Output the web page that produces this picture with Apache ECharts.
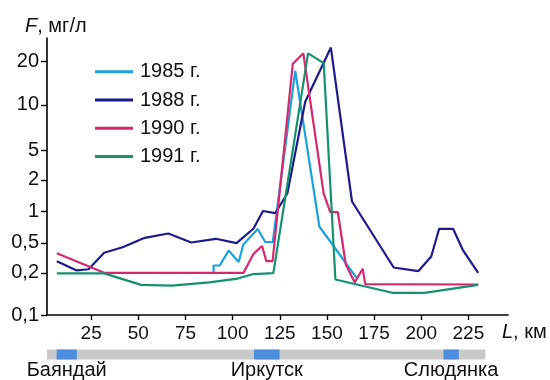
<!DOCTYPE html>
<html>
<head>
<meta charset="utf-8">
<script src="https://cdn.jsdelivr.net/npm/echarts@6/dist/echarts.min.js"></script>
<style>html,body{margin:0;padding:0;background:#fff;}#c{width:550px;height:380px;}</style>
</head>
<body>
<div id="c"></div>
<script>
// ---- data (distance L, km ; fluoride F, mg/l) ----
const YEARS = ['1985 г.', '1988 г.', '1990 г.', '1991 г.'];
const S1985_KM = [89.9, 89.9, 93.2, 97.9, 103.2, 105.7, 113.3, 117.3, 121.3, 133.2, 146.0, 165.6];
const S1985_F  = [0.196, 0.25, 0.25, 0.395, 0.278, 0.474, 0.677, 0.509, 0.509, 17.2, 0.715, 0.185];
const S1988_KM = [6.8, 17.4, 23.6, 31.9, 41.7, 53.4, 65.9, 78.1, 91.1, 102.1, 111.1, 116.1, 122.6, 129.0, 138.5, 152.1, 163.3, 185.4, 198.4, 205.3, 209.5, 216.9, 222.0, 230.2];
const S1988_F  = [0.285, 0.215, 0.223, 0.369, 0.437, 0.558, 0.613, 0.503, 0.546, 0.494, 0.684, 1.004, 0.957, 1.478, 10.5, 25.0, 1.238, 0.235, 0.210, 0.329, 0.680, 0.680, 0.404, 0.200];
const S1990_KM = [6.8, 31.9, 105.8, 111.1, 115.6, 117.9, 121.2, 131.9, 137.5, 148.3, 151.8, 155.8, 160.0, 164.7, 169.0, 170.3, 230.2];
const S1990_F  = [0.364, 0.2, 0.2, 0.357, 0.453, 0.285, 0.285, 19.3, 22.8, 1.468, 0.978, 0.978, 0.258, 0.171, 0.226, 0.166, 0.165];
const S1991_KM = [6.8, 31.9, 51.5, 67.8, 87.6, 102.7, 111.1, 121.6, 140.0, 148.3, 154.5, 184.6, 201.7, 230.2];
const S1991_F  = [0.198, 0.198, 0.164, 0.162, 0.171, 0.182, 0.196, 0.199, 22.8, 19.5, 0.179, 0.144, 0.144, 0.164];
const X_TICKS = [25, 50, 75, 100, 125, 150, 175, 200, 225];
const Y_TICK_VALUES = [0.1, 0.2, 0.5, 1, 2, 5, 10, 20];
const Y_TICK_LABELS = ['0,1', '0,2', '0,5', '1', '2', '5', '10', '20'];
const CITY_NAMES = ['Баяндай', 'Иркутск', 'Слюдянка'];
const CITY_FROM = [6.7, 111.3, 211.8];
const CITY_TO = [17.4, 124.9, 219.9];
const ROUTE = [1.6, 234];

// ---- the figure's own (uneven) logarithmic scale: axis units of each tick ----
const Y_TICK_POS = [0, 42.2, 72.2, 103.8, 135.2, 164.8, 210.2, 253.5];
function toPos(v) {
  const n = Y_TICK_VALUES.length;
  let i = 0;
  if (v >= Y_TICK_VALUES[n - 1]) i = n - 2;
  else { while (i < n - 2 && v > Y_TICK_VALUES[i + 1]) i++; }
  const a = Math.log(Y_TICK_VALUES[i]), b = Math.log(Y_TICK_VALUES[i + 1]);
  return Y_TICK_POS[i] + (Math.log(v) - a) / (b - a) * (Y_TICK_POS[i + 1] - Y_TICK_POS[i]);
}
const pts = (xs, ys) => xs.map((x, i) => [x, toPos(ys[i])]);

const FONT = 'Liberation Sans, Arial, sans-serif';
const INK = '#111';
const COLORS = ['#1ba1dd', '#1b1b8f', '#d6286c', '#159170'];
const X_MIN = 1.6, X_MAX = 246;

const lineSeries = (name, data, color) => ({
  type: 'line', name, data, symbol: 'none', smooth: false,
  lineStyle: { color, width: 2.2 }, itemStyle: { color },
  xAxisIndex: 0, yAxisIndex: 0, z: 3
});
const richTitle = {
  i: { fontStyle: 'italic', fontWeight: 'normal', fontSize: 20, color: INK, fontFamily: FONT },
  n: { fontWeight: 'normal', fontSize: 20, color: INK, fontFamily: FONT }
};

const chart = echarts.init(document.getElementById('c'), null, { renderer: 'canvas' });
chart.setOption({
  animation: false,
  backgroundColor: '#fff',
  textStyle: { fontFamily: FONT },
  title: [
    { text: '{i|F}{n|, мг/л}', left: 25, top: 16, padding: 0,
      textStyle: { fontWeight: 'normal', rich: richTitle } },
    { text: '{i|L}{n|, км}', left: 502, top: 322, padding: 0,
      textStyle: { fontWeight: 'normal', rich: richTitle } }
  ],
  legend: {
    data: YEARS, orient: 'vertical', left: 95, top: 60.7, padding: 0,
    icon: 'rect', itemWidth: 38, itemHeight: 3, itemGap: 6.3,
    textStyle: { fontSize: 20, color: INK, lineHeight: 22, fontFamily: FONT, padding: [0, 0, 0, 2] }
  },
  grid: [
    { left: 47, right: 42, top: 38, bottom: 65 },
    { left: 47, right: 42, top: 349.5, height: 10 }
  ],
  xAxis: [
    { type: 'value', gridIndex: 0, min: X_MIN, max: X_MAX,
      axisLine: { show: true, lineStyle: { color: '#000', width: 1.6 } },
      axisTick: { show: true, length: 5, customValues: X_TICKS, lineStyle: { color: '#000', width: 1.4 } },
      axisLabel: { customValues: X_TICKS, fontSize: 19, color: INK, margin: 9, fontFamily: FONT },
      splitLine: { show: false } },
    { type: 'value', gridIndex: 1, min: X_MIN, max: X_MAX, show: false }
  ],
  yAxis: [
    { type: 'value', gridIndex: 0, min: 0, max: 277,
      axisLine: { show: true, lineStyle: { color: '#000', width: 1.6 } },
      axisTick: { show: true, length: 6, customValues: Y_TICK_POS, lineStyle: { color: '#000', width: 1.4 } },
      axisLabel: { customValues: Y_TICK_POS, fontSize: 20, color: INK, margin: 8, fontFamily: FONT,
        formatter: (v) => {
          let best = 0;
          Y_TICK_POS.forEach((p, i) => { if (Math.abs(p - v) < Math.abs(Y_TICK_POS[best] - v)) best = i; });
          return Y_TICK_LABELS[best];
        } },
      splitLine: { show: false } },
    { type: 'value', gridIndex: 1, min: 0, max: 1, show: false }
  ],
  series: [
    lineSeries(YEARS[0], pts(S1985_KM, S1985_F), COLORS[0]),
    lineSeries(YEARS[1], pts(S1988_KM, S1988_F), COLORS[1]),
    lineSeries(YEARS[2], pts(S1990_KM, S1990_F), COLORS[2]),
    lineSeries(YEARS[3], pts(S1991_KM, S1991_F), COLORS[3]),
    { type: 'custom', xAxisIndex: 1, yAxisIndex: 1, clip: false, silent: true, z: 1,
      data: [ROUTE],
      encode: { x: [0, 1] },
      renderItem: (params, api) => {
        const p0 = api.coord([api.value(0), 0]);
        const p1 = api.coord([api.value(1), 1]);
        return { type: 'rect', shape: { x: p0[0], y: p1[1], width: p1[0] - p0[0], height: p0[1] - p1[1] }, style: { fill: '#c9c9c9' } };
      } },
    { type: 'custom', xAxisIndex: 1, yAxisIndex: 1, clip: false, silent: true, z: 2,
      data: CITY_NAMES.map((n, i) => [CITY_FROM[i], CITY_TO[i], n]),
      encode: { x: [0, 1] },
      renderItem: (params, api) => {
        const p0 = api.coord([api.value(0), 0]);
        const p1 = api.coord([api.value(1), 1]);
        const name = CITY_NAMES[params.dataIndex];
        return { type: 'group', children: [
          { type: 'rect', shape: { x: p0[0], y: p1[1], width: p1[0] - p0[0], height: p0[1] - p1[1] }, style: { fill: '#4d8edc' } },
          { type: 'text', x: (p0[0] + p1[0]) / 2, y: p0[1] + 11,
            style: { text: name, fill: INK, font: '20px ' + FONT, align: 'center', verticalAlign: 'middle' } }
        ] };
      } }
  ]
});
</script>
</body>
</html>
